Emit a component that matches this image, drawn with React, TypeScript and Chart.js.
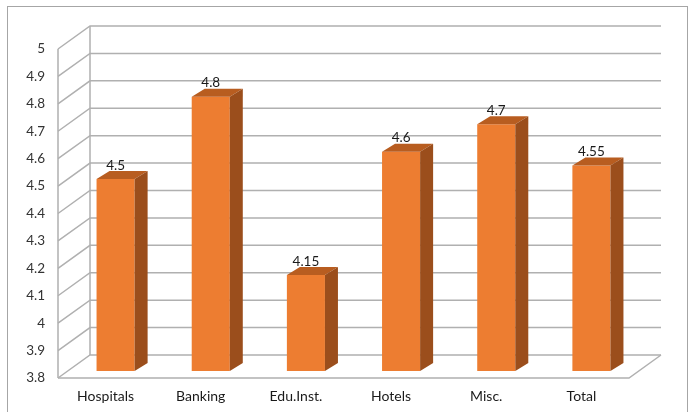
import React, { useEffect, useRef } from "react";
import { Chart, registerables } from "chart.js";

Chart.register(...registerables);

const categories = ["Hospitals", "Banking", "Edu.Inst.", "Hotels", "Misc.", "Total"];
const values = [4.5, 4.8, 4.15, 4.6, 4.7, 4.55];
const valueLabels = ["4.5", "4.8", "4.15", "4.6", "4.7", "4.55"];
const yTicks = [3.8, 3.9, 4, 4.1, 4.2, 4.3, 4.4, 4.5, 4.6, 4.7, 4.8, 4.9, 5];
const yTickLabels = ["3.8", "3.9", "4", "4.1", "4.2", "4.3", "4.4", "4.5", "4.6", "4.7", "4.8", "4.9", "5"];

const FONT = "Lato, 'Open Sans', sans-serif";
// depth offsets relative to bar plane
const BAR_TO_FRONT = { dx: -10, dy: 7 };
const BAR_TO_BACK = { dx: 22, dy: -16 };
const BAR_DEPTH = { dx: 13, dy: -8 };

const threeD = {
  id: "threeD",
  beforeDatasetsDraw(chart: any) {
    const { ctx, chartArea, scales } = chart;
    const y = scales.y;
    const left = chartArea.left;
    const right = chartArea.right;
    ctx.save();
    ctx.strokeStyle = "#A6A6A6";
    ctx.lineWidth = 1;
    ctx.strokeRect(7.5, 6.5, 680, 410);
    ctx.strokeStyle = "#B0B0B0";
    ctx.lineWidth = 1.5;
    const fx = left + BAR_TO_FRONT.dx;
    const bx = left + BAR_TO_BACK.dx;
    const frx = right + BAR_TO_FRONT.dx;
    const brx = right + BAR_TO_BACK.dx;
    yTicks.forEach((t) => {
      const py = y.getPixelForValue(t);
      ctx.beginPath();
      ctx.moveTo(fx, py + BAR_TO_FRONT.dy);
      ctx.lineTo(bx, py + BAR_TO_BACK.dy);
      ctx.lineTo(brx, py + BAR_TO_BACK.dy);
      ctx.stroke();
    });
    const yTop = y.getPixelForValue(yTicks[yTicks.length - 1]);
    const yBot = y.getPixelForValue(yTicks[0]);
    ctx.beginPath();
    ctx.moveTo(fx, yTop + BAR_TO_FRONT.dy);
    ctx.lineTo(fx, yBot + BAR_TO_FRONT.dy);
    ctx.moveTo(bx, yTop + BAR_TO_BACK.dy);
    ctx.lineTo(bx, yBot + BAR_TO_BACK.dy);
    ctx.moveTo(fx, yBot + BAR_TO_FRONT.dy);
    ctx.lineTo(frx, yBot + BAR_TO_FRONT.dy);
    ctx.lineTo(brx, yBot + BAR_TO_BACK.dy);
    ctx.stroke();
    ctx.restore();
  },
  afterDatasetsDraw(chart: any) {
    const { ctx, scales } = chart;
    const meta = chart.getDatasetMeta(0);
    const base = scales.y.getPixelForValue(yTicks[0]);
    ctx.save();
    meta.data.forEach((bar: any, i: number) => {
      const { x, y, width } = bar.getProps(["x", "y", "width"], true);
      const l = x - width / 2;
      const r = x + width / 2;
      ctx.fillStyle = "#B85D20";
      ctx.beginPath();
      ctx.moveTo(l, y);
      ctx.lineTo(l + BAR_DEPTH.dx, y + BAR_DEPTH.dy);
      ctx.lineTo(r + BAR_DEPTH.dx, y + BAR_DEPTH.dy);
      ctx.lineTo(r, y);
      ctx.closePath();
      ctx.fill();
      ctx.fillStyle = "#9B4E1C";
      ctx.beginPath();
      ctx.moveTo(r, y);
      ctx.lineTo(r + BAR_DEPTH.dx, y + BAR_DEPTH.dy);
      ctx.lineTo(r + BAR_DEPTH.dx, base + BAR_DEPTH.dy);
      ctx.lineTo(r, base);
      ctx.closePath();
      ctx.fill();
      ctx.fillStyle = "#1a1a1a";
      ctx.font = `13.5px ${FONT}`;
      ctx.textAlign = "center";
      ctx.textBaseline = "bottom";
      ctx.fillText(valueLabels[i], x, y + BAR_DEPTH.dy + 1);
    });
    ctx.restore();
  },
};

export default function App() {
  const ref = useRef<HTMLCanvasElement>(null);
  useEffect(() => {
    const chart = new Chart(ref.current!, {
      type: "bar",
      data: {
        labels: categories,
        datasets: [
          {
            data: values,
            backgroundColor: "#ED7D31",
            borderWidth: 0,
            categoryPercentage: 1,
            barPercentage: 0.4,
          },
        ],
      },
      options: {
        responsive: false,
        animation: false,
        events: [],
        layout: { padding: { left: 0, top: 42, right: 53, bottom: 0 } },
        plugins: { legend: { display: false }, tooltip: { enabled: false } },
        scales: {
          x: {
            grid: { display: false, drawTicks: false },
            border: { display: false },
            ticks: { color: "#1a1a1a", font: { family: FONT, size: 14 }, padding: 17, labelOffset: -10, maxRotation: 0 },
            afterFit: (s: any) => { s.height = 41; },
          },
          y: {
            min: 3.8,
            max: 5,
            grid: { display: false, drawTicks: false },
            border: { display: false },
            afterBuildTicks: (s: any) => { s.ticks = yTicks.map((v) => ({ value: v })); },
            ticks: {
              color: "#333333",
              font: { family: FONT, size: 13.5 },
              padding: 23,
              labelOffset: 7,
              callback: (_v: any, i: number) => yTickLabels[i],
            },
            afterFit: (s: any) => { s.width = 68; },
          },
        },
      },
      plugins: [threeD],
    });
    return () => chart.destroy();
  }, []);
  return (
    <div style={{ position: "fixed", left: 0, top: 0, width: 692, height: 412, background: "#fff" }}>
      <canvas ref={ref} width={692} height={412} style={{ display: "block" }} />
    </div>
  );
}
